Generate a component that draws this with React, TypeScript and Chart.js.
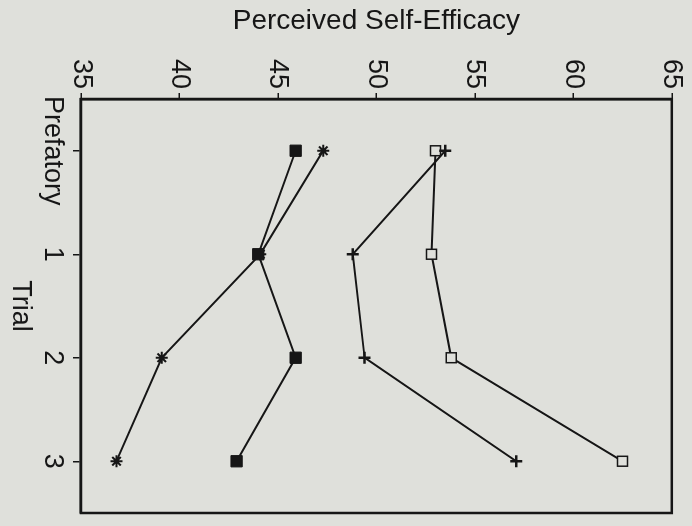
import React, { useEffect, useRef } from "react";
import { Chart, registerables } from "chart.js";

Chart.register(...registerables);

// Trial categories and the four self-efficacy series
const trials = ["Prefatory", "1", "2", "3"];
const filledSquareSeries = [45.9, 44.0, 45.9, 42.9];
const asteriskSeries = [47.3, 44.1, 39.1, 36.8];
const plusSeries = [53.5, 48.8, 49.4, 57.1];
const openSquareSeries = [53.0, 52.8, 53.8, 62.5];
const efficacyTicks = [35, 40, 45, 50, 55, 60, 65];

const INK = "#161616";
const PAPER = "#dfe0db";
const FONT = "'Liberation Sans', Arial, Helvetica, sans-serif";

// Closes the plot area with a full rectangular frame
const framePlugin = {
  id: "plotFrame",
  afterDraw(chart: any) {
    const { ctx, chartArea } = chart;
    ctx.save();
    ctx.strokeStyle = INK;
    ctx.lineWidth = 2.5;
    ctx.strokeRect(
      chartArea.left,
      chartArea.top,
      chartArea.right - chartArea.left,
      chartArea.bottom - chartArea.top
    );
    ctx.restore();
  },
};

export default function App() {
  const canvasRef = useRef<HTMLCanvasElement>(null);

  useEffect(() => {
    const line = { borderColor: INK, borderWidth: 2, tension: 0 };
    const chart = new Chart(canvasRef.current as HTMLCanvasElement, {
      type: "line",
      data: {
        labels: trials,
        datasets: [
          {
            ...line,
            data: filledSquareSeries,
            pointStyle: "rect",
            pointRadius: 8,
            pointBackgroundColor: INK,
            pointBorderColor: INK,
            pointBorderWidth: 1,
          },
          {
            ...line,
            data: asteriskSeries,
            pointStyle: "star",
            pointRadius: 6,
            pointBackgroundColor: INK,
            pointBorderColor: INK,
            pointBorderWidth: 2,
          },
          {
            ...line,
            data: plusSeries,
            pointStyle: "cross",
            pointRadius: 6,
            pointBorderColor: INK,
            pointBorderWidth: 2.5,
          },
          {
            ...line,
            data: openSquareSeries,
            pointStyle: "rect",
            pointRadius: 7,
            pointBackgroundColor: PAPER,
            pointBorderColor: INK,
            pointBorderWidth: 1.5,
          },
        ],
      },
      options: {
        responsive: false,
        animation: false,
        events: [],
        layout: { padding: { top: 19, right: 13, left: 0, bottom: 0 } },
        plugins: {
          legend: { display: false },
          tooltip: { enabled: false },
        },
        scales: {
          x: {
            type: "category",
            offset: true,
            grid: {
              offset: false,
              drawOnChartArea: false,
              drawTicks: true,
              tickLength: 8,
              color: INK,
              lineWidth: 1.5,
            },
            border: { display: true, color: INK, width: 2.5 },
            ticks: {
              color: INK,
              font: { family: FONT, size: 27 },
              padding: 4,
              maxRotation: 0,
              minRotation: 0,
              autoSkip: false,
            },
            title: {
              display: true,
              text: "Trial",
              color: INK,
              font: { family: FONT, size: 27 },
              padding: { top: 4, bottom: 4 },
            },
            afterFit(scale: any) {
              scale.height = 81;
            },
          },
          y: {
            type: "linear",
            min: 35,
            max: 65,
            grid: {
              drawOnChartArea: false,
              drawTicks: true,
              tickLength: 6,
              color: INK,
              lineWidth: 1.5,
            },
            border: { display: true, color: INK, width: 2.5 },
            ticks: {
              color: INK,
              font: { family: FONT, size: 27 },
              padding: 4,
            },
            afterBuildTicks(scale: any) {
              scale.ticks = efficacyTicks.map((v) => ({ value: v }));
            },
            title: {
              display: true,
              text: "Perceived Self-Efficacy",
              color: INK,
              font: { family: FONT, size: 28 },
              padding: { top: 4, bottom: 4 },
            },
            afterFit(scale: any) {
              scale.width = 99;
            },
          },
        },
      },
      plugins: [framePlugin],
    });
    return () => chart.destroy();
  }, []);

  return (
    <div
      style={{
        position: "fixed",
        left: 0,
        top: 0,
        width: 692,
        height: 526,
        overflow: "hidden",
        background: PAPER,
      }}
    >
      <div
        style={{
          position: "absolute",
          left: 0,
          top: 0,
          width: 526,
          height: 692,
          transformOrigin: "0 0",
          transform: "translateX(692px) rotate(90deg)",
        }}
      >
        <canvas ref={canvasRef} width={526} height={692} style={{ display: "block" }} />
      </div>
    </div>
  );
}
